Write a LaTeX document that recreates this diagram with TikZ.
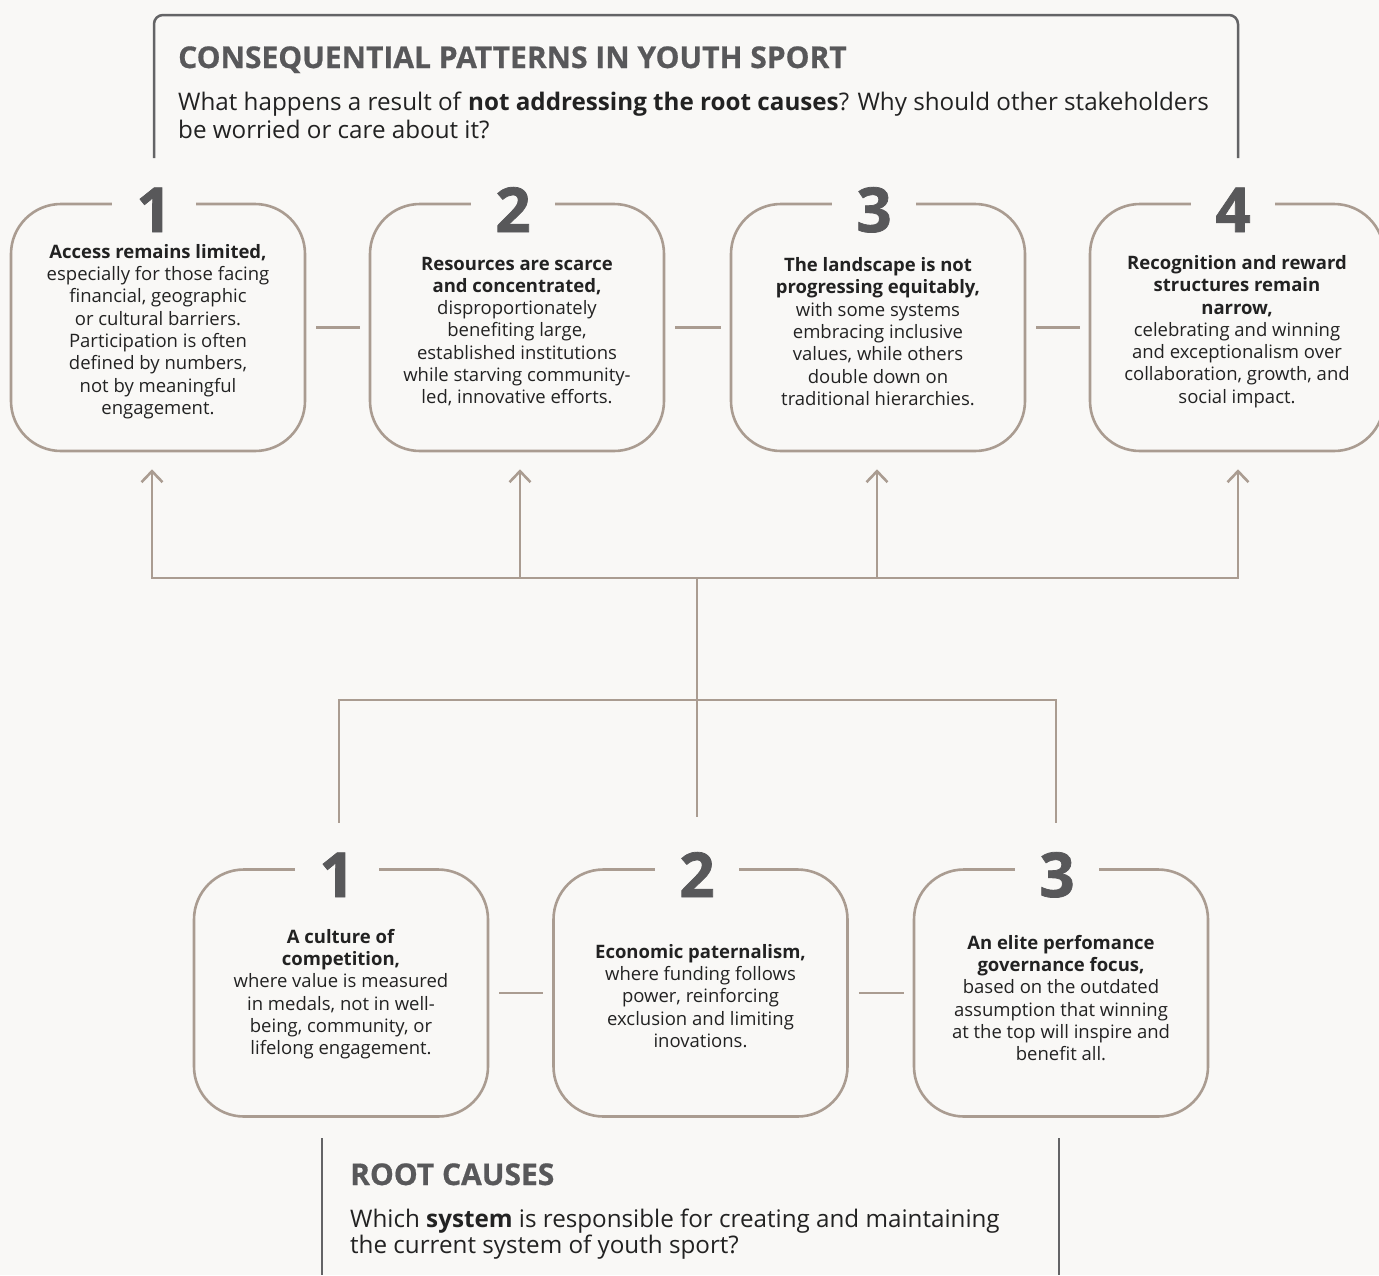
\documentclass[tikz,border=0pt]{standalone}
\usepackage{fontspec}
\setmainfont{Open Sans}
\usetikzlibrary{arrows.meta}
\definecolor{bgc}{HTML}{F9F8F6}
\definecolor{taupe}{HTML}{AA9C91}
\definecolor{numc}{HTML}{58585A}
\definecolor{framec}{HTML}{646466}
\definecolor{txt}{HTML}{222222}
\tikzset{
  card/.style={draw=taupe, line width=2.6pt, rounded corners=50pt,
    minimum width=294pt, minimum height=247pt, inner sep=0pt},
  cardtext/.style={align=center, font=\fontsize{18.5}{22.3}\selectfont, text=txt, inner sep=0pt},
  numlabel/.style={fill=bgc, text=numc, inner xsep=24pt, inner ysep=2pt,
    font=\fontsize{62}{62}\selectfont\bfseries\addfontfeature{FakeBold=1.2}, anchor=base},
  heading/.style={anchor=base west, inner sep=0pt, text=numc,
    font=\fontsize{30}{30}\selectfont\bfseries\addfontfeature{FakeBold=0.6}},
  question/.style={anchor=base west, inner sep=0pt, text=txt, align=left},
  conn/.style={draw=taupe, line width=2.6pt},
  arr/.style={conn, -{Straight Barb[length=11pt,width=21pt]}},
  frameline/.style={draw=framec, line width=2.5pt, rounded corners=9pt}
}
\begin{document}
\begin{tikzpicture}[x=1pt,y=-1pt]
\fill[bgc] (0,0) rectangle (1379,1275);
\useasboundingbox (0,0) rectangle (1379,1275);

% top frame
\coordinate (fa) at (154,158);
\coordinate (fb) at (154,15);
\coordinate (fc) at (1238,15);
\coordinate (fd) at (1238,158);
\draw[frameline] (fa) -- (fb) -- (fc) -- (fd);
\node[heading] (ttl) at (178,68) {CONSEQUENTIAL PATTERNS IN YOUTH SPORT};
\node[question, font=\fontsize{24.2}{28}\selectfont] (sub) at (178,138) {What happens a result of \textbf{not addressing the root causes}? Why should other stakeholders\\be worried or care about it?};

% top cards
\node[card] (t1) at (158,327.5) {};
\node[card] (t2) at (517,327.5) {};
\node[card] (t3) at (878,327.5) {};
\node[card] (t4) at (1237,327.5) {};
\node[cardtext] (t1x) at ([yshift=-4pt]t1.center) {\textbf{Access remains limited,}\\especially for those facing\\financial, geographic\\or cultural barriers.\\Participation is often\\defined by numbers,\\not by meaningful\\engagement.};
\node[cardtext] (t2x) at ([yshift=-4pt]t2.center) {\textbf{Resources are scarce}\\\textbf{and concentrated,}\\disproportionately\\benefiting large,\\established institutions\\while starving community-\\led, innovative efforts.};
\node[cardtext] (t3x) at ([yshift=-4pt]t3.center) {\textbf{The landscape is not}\\\textbf{progressing equitably,}\\with some systems\\embracing inclusive\\values, while others\\double down on\\traditional hierarchies.};
\node[cardtext] (t4x) at ([yshift=-4pt]t4.center) {\textbf{Recognition and reward}\\\textbf{structures remain}\\\textbf{narrow,}\\celebrating and winning\\and exceptionalism over\\collaboration, growth, and\\social impact.};

\node[numlabel] (n1) at (154,232) {1};
\node[numlabel] (n2) at (513,232) {2};
\node[numlabel] (n3) at (874,232) {3};
\node[numlabel] (n4) at (1233,232) {4};

\draw[conn, shorten <=10pt, shorten >=9pt] (t1.east) -- (t2.west);
\draw[conn, shorten <=10pt, shorten >=9pt] (t2.east) -- (t3.west);
\draw[conn, shorten <=10pt, shorten >=9pt] (t3.east) -- (t4.west);

% bottom cards
\node[card] (b1) at (341,993) {};
\node[card] (b2) at (700.5,993) {};
\node[card] (b3) at (1061,993) {};
\node[cardtext] (b1x) at ([yshift=-1pt]b1.center) {\textbf{A culture of}\\\textbf{competition,}\\where value is measured\\in medals, not in well-\\being, community, or\\lifelong engagement.};
\node[cardtext] (b2x) at ([yshift=-3pt]b2.center) {\textbf{Economic paternalism,}\\where funding follows\\power, reinforcing\\exclusion and limiting\\inovations.};
\node[cardtext] (b3x) at ([yshift=-5pt]b3.center) {\textbf{An elite perfomance}\\\textbf{governance focus,}\\based on the outdated\\assumption that winning\\at the top will inspire and\\benefit all.};

\node[numlabel] (m1) at (337,897) {1};
\node[numlabel] (m2) at (697,897) {2};
\node[numlabel] (m3) at (1057,897) {3};

\draw[conn, shorten <=10pt, shorten >=9pt] (b1.east) -- (b2.west);
\draw[conn, shorten <=10pt, shorten >=9pt] (b2.east) -- (b3.west);

% tree connectors
\coordinate (h1) at (152,578);
\coordinate (h2) at (520,578);
\coordinate (h3) at (877,578);
\coordinate (h4) at (1238,578);
\coordinate (hm) at (697,578);
\coordinate (g1) at (339,700);
\coordinate (g3) at (1056,700);
\draw[conn, line cap=rect] (h1) -- (h4);
\draw[arr, shorten >=17pt] (h1) -- (h1 |- t1.south);
\draw[arr, shorten >=17pt] (h2) -- (h2 |- t2.south);
\draw[arr, shorten >=17pt] (h3) -- (h3 |- t3.south);
\draw[arr, shorten >=17pt] (h4) -- (h4 |- t4.south);
\draw[conn, shorten >=51pt] (hm) -- (hm |- b2.north);
\draw[conn, line cap=rect] (g1) -- (g3);
\draw[conn, shorten >=45pt] (g1) -- (g1 |- b1.north);
\draw[conn, shorten >=45pt] (g3) -- (g3 |- b3.north);

% bottom frame
\coordinate (ra) at (322,1138);
\coordinate (rb) at (322,1275);
\coordinate (rc) at (1059,1138);
\coordinate (rd) at (1059,1275);
\draw[draw=framec, line width=2.5pt] (ra) -- (rb);
\draw[draw=framec, line width=2.5pt] (rc) -- (rd);
\node[heading] (rttl) at (350,1185) {ROOT CAUSES};
\node[question, font=\fontsize{24.2}{26}\selectfont] (rsub) at (350,1253) {Which \textbf{system} is responsible for creating and maintaining\\the current system of youth sport?};
\end{tikzpicture}
\end{document}
